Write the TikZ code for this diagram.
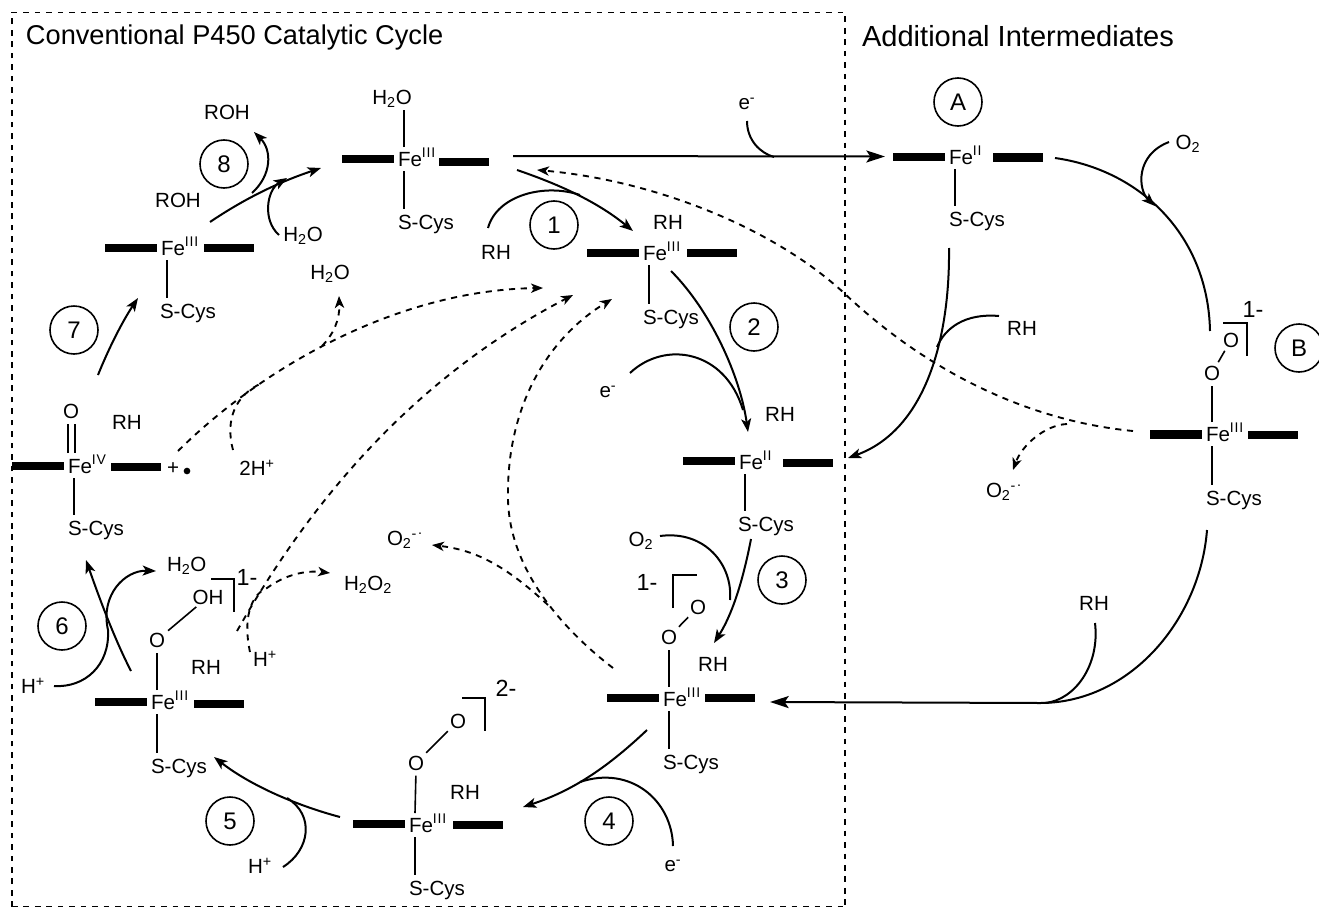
\documentclass[tikz,border=0pt]{standalone}
\usepackage{fontspec}
\setmainfont{Liberation Sans}
\usetikzlibrary{arrows.meta,calc}
\tikzset{
  lab/.style={inner sep=0pt,outer sep=0pt,text height=11pt,text depth=0pt,font=\fontsize{15.4}{18}\selectfont},
  biglab/.style={inner sep=0pt,outer sep=0pt,text height=12pt,text depth=0pt,font=\fontsize{17.5}{20}\selectfont},
  ttl/.style={inner sep=0pt,outer sep=0pt,anchor=west,text height=14.6pt,text depth=0pt,font=\fontsize{20.4}{24}\selectfont},
  ttlb/.style={inner sep=0pt,outer sep=0pt,anchor=west,text height=15pt,text depth=0pt,font=\fontsize{21.8}{24}\selectfont},
  num/.style={circle,draw,line width=1.2pt,minimum size=36pt,inner sep=0pt,font=\fontsize{18}{20}\selectfont},
  bar/.style={line width=6.2pt},
  bond/.style={line width=1.2pt,shorten >=4pt},
  oo/.style={line width=1.2pt,shorten >=3pt,shorten <=3pt},
  brk/.style={line width=1.2pt},
  curve/.style={line width=1.5pt},
  arr/.style={line width=1.5pt,-{Stealth[length=10pt,width=7.5pt,inset=2.5pt]}},
  bigarr/.style={line width=1.5pt,-{Stealth[length=14pt,width=9pt,inset=3pt]}},
  dsh/.style={line width=1.4pt,dash pattern=on 4.6pt off 4.2pt},
  dsharr/.style={dsh,-{Stealth[length=9pt,width=7pt,inset=2.5pt]}},
  boxline/.style={line width=1.4pt,dash pattern=on 4.2pt off 4.4pt},
}
\newcommand{\feup}[1]{\raisebox{0.42em}{\fontsize{10.5}{12}\addfontfeature{LetterSpace=6}#1}}
\newcommand{\radsup}{\textsuperscript{-\kern0.12em\raisebox{0.55ex}{.}}}
\newcommand{\feunit}[7]{%
  \node[lab,anchor=west] (#1) at (#2,#3) {Fe\feup{#4}};
  \draw[bar] (#2-56,#5) -- (#2-4,#5);
  \draw[bar] (#6,#7) -- (#6+50,#7);
  \coordinate (#1-up) at (#2+6,#3-12);
  \coordinate (#1-dn) at (#2+6,#3+12);
}
\newcommand{\scys}[3]{\node[lab,anchor=west] (#1) at (#2,#3) {S-Cys};}
\begin{document}
\begin{tikzpicture}[x=0.75pt,y=-0.75pt]
\useasboundingbox (0,0) rectangle (1319,906);
\draw[boxline] (12,907) -- (12,12.5) -- (845,12.5) -- (845,907);
\draw[boxline] (12,907.2) -- (845,907.2);
\node[ttl] (t1) at (26,35) {Conventional P450 Catalytic Cycle};
\node[ttlb] (t2) at (862,36) {Additional Intermediates};

% iron units
\feunit{u0}{398}{159}{III}{159}{439}{162}
\feunit{u8}{161}{248}{III}{248}{204}{248}
\feunit{u1}{643}{253}{III}{253}{687}{253}
\feunit{u2}{739}{462}{II}{461}{783}{463}
\feunit{ua}{949}{157}{II}{157}{993}{157.5}
\feunit{ub}{1206}{434}{III}{434.5}{1248}{435}
\feunit{u3}{663}{699}{III}{698}{705}{698}
\feunit{u4}{409}{825}{III}{824}{453}{825}
\feunit{u5}{151}{702}{III}{702}{194}{704}
\feunit{u6}{68}{466}{IV}{466}{111}{467}

% S-Cys labels
\scys{s0}{398}{222}
\scys{s8}{160}{311}
\scys{s1}{643}{317}
\scys{s2}{738}{524}
\scys{sa}{949}{219}
\scys{sb}{1206}{498}
\scys{s3}{663}{762}
\scys{s4}{409}{888}
\scys{s5}{151}{766}
\scys{s6}{68}{528}

% upper ligands
\node[lab] (w0) at (392,97) {H\textsubscript{2}O};
\node[lab] (ob1) at (1212,373) {O};
\node[lab] (ob2) at (1231,340) {O};
\node[lab] (o31) at (669,637) {O};
\node[lab] (o32) at (698,607) {O};
\node[lab] (o41) at (416,763) {O};
\node[lab] (o42) at (458,721) {O};
\node[lab] (o51) at (157,640) {O};
\node[lab] (o52) at (208,597) {OH};
\node[lab] (o6) at (71,411) {O};

% bonds
\draw[bond] (u0-up) -- (u0-up |- w0.south);
\foreach \u/\s in {u0/s0,u8/s8,u1/s1,u2/s2,ua/sa,ub/sb,u3/s3,u4/s4,u5/s5,u6/s6}
  \draw[bond] (\u-dn) -- (\u-dn |- \s.north);
\draw[bond] (ub-up) -- (ub-up |- ob1.south);
\draw[bond] (u3-up) -- (u3-up |- o31.south);
\draw[bond] (u4-up) -- (o41.south);
\draw[bond] (u5-up) -- (u5-up |- o51.south);
\draw[oo] (ob1) -- (ob2);
\draw[oo] (o31) -- (o32);
\draw[oo] (o41) -- (o42);
\draw[oo] (o51) -- (o52);
\coordinate (dbl) at (71.5,453);
\draw[bond,double,double distance=4.2pt,line width=1pt] (dbl) -- (dbl |- o6.south);

% charges and brackets
\draw[brk] (1223,323) -- (1247,323) -- (1247,356);
\draw[brk] (673,608) -- (673,575) -- (697,575);
\draw[brk] (462,698) -- (485,698) -- (485,731);
\draw[brk] (211,579) -- (234,579) -- (234,612);
\node[biglab] (cb) at (1253,309) {1-};
\node[biglab] (c3) at (647,582) {1-};
\node[biglab] (c4) at (506,688) {2-};
\node[biglab] (c5) at (247,577) {1-};

% other labels
\node[lab] (roh1) at (227,112) {ROH};
\node[lab] (roh2) at (178,200) {ROH};
\node[lab] (w8) at (303,234) {H\textsubscript{2}O};
\node[lab] (w7) at (330,272) {H\textsubscript{2}O};
\node[lab] (rh0) at (496,252) {RH};
\node[lab] (rh1) at (668,222) {RH};
\node[lab] (rh2) at (780,414) {RH};
\node[lab] (rhr) at (1022,328) {RH};
\node[lab] (rhl) at (1094,603) {RH};
\node[lab] (rh3) at (713,664) {RH};
\node[lab] (rh4) at (465,792) {RH};
\node[lab] (rh5) at (206,667) {RH};
\node[lab] (rh6) at (127,422) {RH};
\node[lab] (e0) at (747,102) {e\textsuperscript{-}};
\node[lab] (e2) at (608,390) {e\textsuperscript{-}};
\node[lab] (e4) at (673,864) {e\textsuperscript{-}};
\node[lab] (ox3) at (641,539) {O\textsubscript{2}};
\node[lab] (oxr) at (1188,142) {O\textsubscript{2}};
\node[lab,anchor=west] (sup1) at (986,490) {O\textsubscript{2}\radsup};
\node[lab,anchor=west] (sup2) at (387,538) {O\textsubscript{2}\radsup};
\node[lab,anchor=west] (w5) at (167,564) {H\textsubscript{2}O};
\node[lab,anchor=west] (h2o2) at (344,583) {H\textsubscript{2}O\textsubscript{2}};
\node[lab] (hp5) at (265,659) {H\textsuperscript{+}};
\node[lab] (hp6) at (33,686) {H\textsuperscript{+}};
\node[lab] (hp4) at (260,866) {H\textsuperscript{+}};
\node[lab] (twoh) at (257,468) {2H\textsuperscript{+}};
\node[lab] (plus) at (173,467) {+};
\node[circle,fill,inner sep=0pt,minimum size=5pt] (rad) at (187,471) {};

% numbered circles
\node[num] (n1) at (554,225) {1};
\node[num] (n2) at (754,327) {2};
\node[num] (n3) at (782,580) {3};
\node[num] (n4) at (609,821) {4};
\node[num] (n5) at (230,821) {5};
\node[num] (n6) at (62,626) {6};
\node[num] (n7) at (74,330) {7};
\node[num] (n8) at (224,164) {8};
\node[num] (na) at (958,102) {A};
\node[num] (nb) at (1299,348) {B};

% connector end points
\coordinate (a0s) at (513,156); \coordinate (a0e) at (885,156.5);
\coordinate (e0s) at (747,121); \coordinate (e0e) at (774,157);
\coordinate (abs) at (1055,158); \coordinate (abe) at (1210,331);
\coordinate (oxs) at (1169,142); \coordinate (oxe) at (1155,206);
\coordinate (a2s) at (949,248); \coordinate (a2e) at (848,458);
\coordinate (rrs) at (999,316); \coordinate (rre) at (937,347);
\coordinate (db0) at (1133,431); \coordinate (db1) at (844,293); \coordinate (db2) at (537,170);
\coordinate (dos) at (1067,424); \coordinate (doe) at (1013,470);
\coordinate (b3s) at (1207,530); \coordinate (b3m) at (1040,703); \coordinate (b3e) at (770,702);
\coordinate (rls) at (1095,623); \coordinate (rle) at (1045,703);
\coordinate (c1s) at (517,170); \coordinate (c1e) at (633,231);
\coordinate (r1s) at (488,228); \coordinate (r1e) at (580,195);
\coordinate (c2s) at (671,271); \coordinate (c2e) at (748,432);
\coordinate (e2s) at (630,373); \coordinate (e2e) at (743,410);
\coordinate (c3s) at (751,539); \coordinate (c3e) at (714,643);
\coordinate (o3s) at (660,536); \coordinate (o3e) at (730,600);
\coordinate (c4s) at (647,730); \coordinate (c4e) at (523,807);
\coordinate (e4s) at (673,846); \coordinate (e4e) at (580,782);
\coordinate (c5s) at (340,817); \coordinate (c5e) at (214,757);
\coordinate (h5s) at (283,867); \coordinate (h5e) at (287,798);
\coordinate (c6s) at (131,671); \coordinate (c6e) at (86,560);
\coordinate (h6s) at (54,686); \coordinate (h6m) at (108,630); \coordinate (h6e) at (156,571);
\coordinate (c7s) at (98,375); \coordinate (c7e) at (138,298);
\coordinate (c8s) at (210,222); \coordinate (c8e) at (321,168);
\coordinate (ros) at (252,193); \coordinate (roe) at (254,132);
\coordinate (w8s) at (279,235); \coordinate (w8e) at (287,178);
\coordinate (d1s) at (178,451); \coordinate (d1e) at (543,288);
\coordinate (d2s) at (233,450); \coordinate (d2e) at (262,383);
\coordinate (d3s) at (322,346); \coordinate (d3e) at (339,296);
\coordinate (d4s) at (237,631); \coordinate (d4e) at (573,295);
\coordinate (d5s) at (250,652); \coordinate (d5m) at (267,588); \coordinate (d5e) at (330,573);
\coordinate (d6s) at (613,668); \coordinate (d6m) at (508,500); \coordinate (d6e) at (612,299);
\coordinate (d7s) at (548,605); \coordinate (d7e) at (432,545);

% solid connectors
\draw[bigarr] (a0s) -- (a0e);
\draw[curve] (e0s) .. controls (747,140) and (760,153) .. (e0e);
\draw[curve] (abs) .. controls (1140,170) and (1208,235) .. (abe);
\draw[arr] (oxs) .. controls (1135,155) and (1138,190) .. (oxe);
\draw[arr] (a2s) .. controls (950,340) and (925,430) .. (a2e);
\draw[curve] (rrs) .. controls (965,313) and (945,328) .. (rre);
\draw[bigarr] (b3s) .. controls (1200,620) and (1130,703) .. (b3m) -- (b3e);
\draw[curve] (rls) .. controls (1100,665) and (1075,700) .. (rle);
\draw[arr] (c1s) .. controls (555,183) and (595,200) .. (c1e);
\draw[curve] (r1s) .. controls (497,195) and (545,183) .. (r1e);
\draw[arr] (c2s) .. controls (710,310) and (740,375) .. (c2e);
\draw[curve] (e2s) .. controls (665,340) and (725,350) .. (e2e);
\draw[arr] (c3s) .. controls (745,570) and (735,610) .. (c3e);
\draw[curve] (o3s) .. controls (705,530) and (733,565) .. (o3e);
\draw[arr] (c4s) .. controls (610,765) and (575,790) .. (c4e);
\draw[curve] (e4s) .. controls (672,800) and (630,765) .. (e4e);
\draw[arr] (c5s) .. controls (295,805) and (250,785) .. (c5e);
\draw[curve] (h5s) .. controls (310,850) and (315,815) .. (h5e);
\draw[arr] (c6s) .. controls (115,640) and (100,600) .. (c6e);
\draw[arr] (h6s) .. controls (85,688) and (110,665) .. (h6m) .. controls (100,595) and (125,570) .. (h6e);
\draw[arr] (c7s) .. controls (108,350) and (122,322) .. (c7e);
\draw[arr] (c8s) .. controls (250,195) and (285,180) .. (c8e);
\draw[arr] (ros) .. controls (272,175) and (272,150) .. (roe);
\draw[arr] (w8s) .. controls (262,220) and (267,190) .. (w8e);

% dashed connectors
\draw[dsharr] (db0) .. controls (1020,420) and (920,365) .. (db1) .. controls (770,225) and (650,180) .. (db2);
\draw[dsharr] (dos) .. controls (1045,425) and (1022,445) .. (doe);
\draw[dsharr] (d1s) .. controls (265,365) and (400,290) .. (d1e);
\draw[dsh] (d2s) .. controls (225,420) and (235,395) .. (d2e);
\draw[dsharr] (d3s) .. controls (333,335) and (340,320) .. (d3e);
\draw[dsharr] (d4s) .. controls (300,520) and (400,385) .. (d4e);
\draw[dsharr] (d5s) .. controls (243,620) and (250,595) .. (d5m) .. controls (285,575) and (305,570) .. (d5e);
\draw[dsharr] (d6s) .. controls (570,635) and (510,575) .. (d6m) .. controls (506,410) and (545,340) .. (d6e);
\draw[dsharr] (d7s) .. controls (505,565) and (475,550) .. (d7e);
\end{tikzpicture}
\end{document}
